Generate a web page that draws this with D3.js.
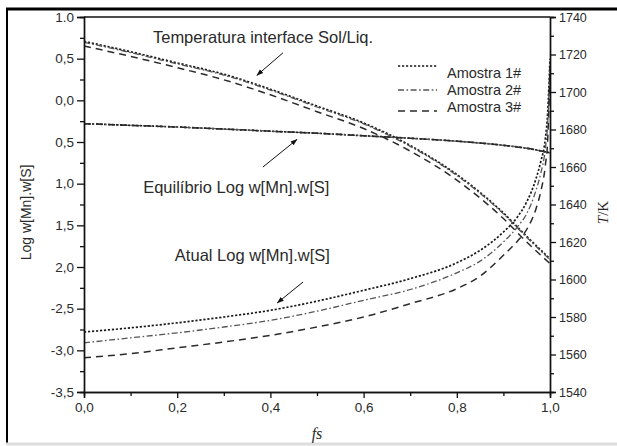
<!DOCTYPE html>
<html>
<head>
<meta charset="utf-8">
<script src="https://cdn.jsdelivr.net/npm/d3@7"></script>
<style>
  body { margin: 0; background: #fff; }
  svg text { font-family: Arial, "Liberation Sans", sans-serif; fill: #2a2a2a; }
</style>
</head>
<body>
<svg id="chart" width="617" height="446"></svg>
<script>
// Data
const fsFine = [0, 0.1, 0.2, 0.3, 0.4, 0.5, 0.6, 0.7, 0.8, 0.85, 0.9, 0.93, 0.95, 0.97, 0.98, 0.99, 0.995, 1.0];
const fsCoarse = [0, 0.1, 0.2, 0.3, 0.4, 0.5, 0.6, 0.7, 0.8, 0.9, 0.95, 1.0];

// Atual Log w[Mn].w[S]
const atual1 = [-2.78, -2.73, -2.67, -2.60, -2.52, -2.41, -2.28, -2.14, -1.95, -1.80, -1.58, -1.40, -1.22, -0.94, -0.74, -0.46, -0.15, 0.50];
const atual2 = [-2.91, -2.85, -2.79, -2.72, -2.64, -2.53, -2.40, -2.27, -2.07, -1.93, -1.70, -1.52, -1.36, -1.08, -0.88, -0.58, -0.28, 0.45];
const atual3 = [-3.09, -3.04, -2.97, -2.90, -2.82, -2.72, -2.60, -2.44, -2.26, -2.11, -1.86, -1.69, -1.55, -1.30, -1.10, -0.78, -0.48, 0.40];

// Equilibrio Log w[Mn].w[S] (same for the 3 samples)
const equilibrio = [-0.28, -0.30, -0.32, -0.345, -0.37, -0.395, -0.425, -0.455, -0.49, -0.54, -0.575, -0.63];

// Temperatura interface Sol/Liq. (K)
const temp1 = [1727, 1721.5, 1715.5, 1709.5, 1701.5, 1692.5, 1683.5, 1671.5, 1656, 1635.5, 1623, 1611];
const temp2 = [1726.5, 1721, 1715, 1709, 1701, 1692, 1683, 1671, 1655.5, 1635, 1622.5, 1610.5];
const temp3 = [1724.5, 1719, 1713, 1706.5, 1698.5, 1689.5, 1680.5, 1668.5, 1653, 1632.5, 1620, 1608.5];

const amostras = ["Amostra 1#", "Amostra 2#", "Amostra 3#"];

// tick values and labels as printed
const leftTicks = [1.0, 0.5, 0.0, -0.5, -1.0, -1.5, -2.0, -2.5, -3.0, -3.5];
const leftLabels = ["1.0", "0,5", "0,0", "0,5", "1,0", "1,5", "2,0", "-2,5", "-3,0", "-3,5"];
const xTicks = [0, 0.2, 0.4, 0.6, 0.8, 1.0];
const xLabels = ["0,0", "0,2", "0,4", "0,6", "0,8", "1,0"];
const rightTicks = [1540, 1560, 1580, 1600, 1620, 1640, 1660, 1680, 1700, 1720, 1740];

const svg = d3.select("#chart");
const W = 617, H = 446;
const margin = ({top: 17, right: 67, bottom: 54, left: 84});

const x = d3.scaleLinear().domain([0, 1]).range([margin.left, W - margin.right]);
const yL = d3.scaleLinear().domain([-3.5, 1.0]).range([H - margin.bottom, margin.top]);
const yR = d3.scaleLinear().domain([1540, 1740]).range([H - margin.bottom, margin.top]);

// outer frame of the picture
svg.append("line").attr("x1", 6).attr("x2", W).attr("y1", 9).attr("y2", 9)
  .attr("stroke", "#000").attr("stroke-width", 3);
svg.append("line").attr("x1", 7).attr("x2", 7).attr("y1", 8).attr("y2", 444)
  .attr("stroke", "#000").attr("stroke-width", 2);
svg.append("line").attr("x1", 6).attr("x2", W).attr("y1", 444).attr("y2", 444)
  .attr("stroke", "#ddd").attr("stroke-width", 3);

svg.append("defs").append("clipPath").attr("id", "clip")
  .append("rect").attr("x", margin.left).attr("y", margin.top - 2)
  .attr("width", x(1) - x(0)).attr("height", yL(-3.5) - yL(1.0) + 2);

svg.select("defs").append("marker")
  .attr("id", "arrow").attr("viewBox", "0 0 10 10")
  .attr("refX", 9).attr("refY", 5)
  .attr("markerWidth", 7).attr("markerHeight", 7)
  .attr("orient", "auto")
  .append("path").attr("d", "M0,1.5 L10,5 L0,8.5 Z").attr("fill", "#111");

// styles per sample
const styles = [
  {dash: "2.2,1.8", width: 1.7, color: "#1a1a1a"},
  {dash: "6,2.5,1.6,2.5", width: 1.3, color: "#555"},
  {dash: "7,5", width: 1.5, color: "#2a2a2a"}
];

const lineLeft = d3.line().x(d => x(d[0])).y(d => yL(d[1])).curve(d3.curveMonotoneX);
const lineRight = d3.line().x(d => x(d[0])).y(d => yR(d[1])).curve(d3.curveMonotoneX);

const plot = svg.append("g").attr("clip-path", "url(#clip)");

const atual = [atual1, atual2, atual3];
const temps = [temp1, temp2, temp3];

atual.forEach((vals, i) => {
  plot.append("path")
    .datum(fsFine.map((f, j) => [f, vals[j]]))
    .attr("d", lineLeft)
    .attr("fill", "none")
    .attr("stroke", styles[i].color)
    .attr("stroke-width", styles[i].width)
    .attr("stroke-dasharray", styles[i].dash);
});

styles.forEach((s) => {
  plot.append("path")
    .datum(fsCoarse.map((f, j) => [f, equilibrio[j]]))
    .attr("d", lineLeft)
    .attr("fill", "none")
    .attr("stroke", s.color)
    .attr("stroke-width", s.width)
    .attr("stroke-dasharray", s.dash);
});

temps.forEach((vals, i) => {
  plot.append("path")
    .datum(fsCoarse.map((f, j) => [f, vals[j]]))
    .attr("d", lineRight)
    .attr("fill", "none")
    .attr("stroke", styles[i].color)
    .attr("stroke-width", styles[i].width)
    .attr("stroke-dasharray", styles[i].dash);
});

// axes
const axisColor = "#111";
const styleAxis = (g, size) => {
  g.select(".domain").attr("stroke", axisColor).attr("stroke-width", 1.4);
  g.selectAll(".tick line").attr("stroke", axisColor).attr("stroke-width", 1.3);
  g.selectAll(".tick text").attr("font-size", size).attr("fill", "#2a2a2a")
    .attr("font-family", "Arial, 'Liberation Sans', sans-serif");
};

// top border of the plot
svg.append("line")
  .attr("x1", x(0)).attr("x2", x(1)).attr("y1", yL(1.0)).attr("y2", yL(1.0))
  .attr("stroke", axisColor).attr("stroke-width", 1.3);

const minorLeft = d3.range(-3.25, 1.0, 0.5);
svg.append("g").attr("transform", `translate(${margin.left},0)`)
  .call(d3.axisLeft(yL).tickValues(minorLeft).tickSize(4).tickFormat(""))
  .call(g => styleAxis(g, 0));
svg.append("g").attr("transform", `translate(${margin.left},0)`)
  .call(d3.axisLeft(yL).tickValues(leftTicks).tickSize(7).tickPadding(3)
    .tickFormat((d, i) => leftLabels[i]))
  .call(g => styleAxis(g, 13.5));

const minorRight = d3.range(1550, 1740, 20);
svg.append("g").attr("transform", `translate(${x(1)},0)`)
  .call(d3.axisRight(yR).tickValues(minorRight).tickSize(4).tickFormat(""))
  .call(g => styleAxis(g, 0));
svg.append("g").attr("transform", `translate(${x(1)},0)`)
  .call(d3.axisRight(yR).tickValues(rightTicks).tickSize(6).tickPadding(3)
    .tickFormat(d3.format("d")))
  .call(g => styleAxis(g, 12.5));

const minorX = [0.1, 0.3, 0.5, 0.7, 0.9];
svg.append("g").attr("transform", `translate(0,${yL(-3.5)})`)
  .call(d3.axisBottom(x).tickValues(minorX).tickSize(4).tickFormat(""))
  .call(g => styleAxis(g, 0));
svg.append("g").attr("transform", `translate(0,${yL(-3.5)})`)
  .call(d3.axisBottom(x).tickValues(xTicks).tickSize(6).tickPadding(4)
    .tickFormat((d, i) => xLabels[i]))
  .call(g => styleAxis(g, 13.5));

// axis titles
svg.append("text")
  .attr("transform", `translate(31,${(yL(1) + yL(-3.5)) / 2 + 8}) rotate(-90)`)
  .attr("text-anchor", "middle").attr("font-size", 14)
  .text("Log w[Mn].w[S]");

svg.append("text")
  .attr("transform", `translate(608,${(yL(1) + yL(-3.5)) / 2 + 8}) rotate(-90)`)
  .attr("text-anchor", "middle").attr("font-size", 15)
  .style("font-family", "'Liberation Serif', 'DejaVu Serif', serif")
  .call(t => {
    t.append("tspan").attr("font-style", "italic").text("T");
    t.append("tspan").text("/K");
  });

svg.append("text")
  .attr("x", (x(0) + x(1)) / 2).attr("y", 439)
  .attr("text-anchor", "middle").attr("font-size", 16)
  .attr("font-style", "italic")
  .style("font-family", "'Liberation Serif', 'DejaVu Serif', serif")
  .text("fs");

// legend
const legend = svg.append("g");
const legendLineY = [66, 90, 111];
const legendTextY = [78, 95, 112];
amostras.forEach((name, i) => {
  legend.append("line")
    .attr("x1", 398).attr("x2", 437)
    .attr("y1", legendLineY[i]).attr("y2", legendLineY[i])
    .attr("stroke", styles[i].color)
    .attr("stroke-width", styles[i].width)
    .attr("stroke-dasharray", styles[i].dash);
  legend.append("text")
    .attr("x", 447).attr("y", legendTextY[i])
    .attr("font-size", 14.5)
    .text(name);
});

// annotations: text and arrows (positions in data coordinates)
const annotations = [
  {text: "Temperatura interface Sol/Liq.", tx: 0.148, ty: 0.69, from: [0.427, 0.57], to: [0.371, 0.30]},
  {text: "Equilíbrio Log w[Mn].w[S]", tx: 0.127, ty: -1.11, from: [0.384, -0.80], to: [0.457, -0.47]},
  {text: "Atual Log w[Mn].w[S]", tx: 0.195, ty: -1.93, from: [0.470, -2.18], to: [0.415, -2.43]}
];

annotations.forEach(a => {
  svg.append("text")
    .attr("x", x(a.tx)).attr("y", yL(a.ty))
    .attr("font-size", 16.5)
    .text(a.text);
  svg.append("line")
    .attr("x1", x(a.from[0])).attr("y1", yL(a.from[1]))
    .attr("x2", x(a.to[0])).attr("y2", yL(a.to[1]))
    .attr("stroke", "#111").attr("stroke-width", 1)
    .attr("marker-end", "url(#arrow)");
});
</script>
</body>
</html>
